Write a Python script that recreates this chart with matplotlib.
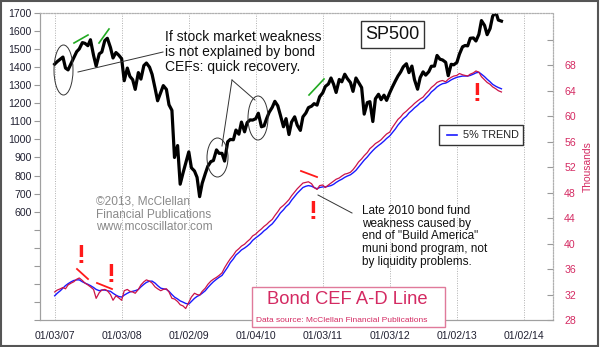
import numpy as np
import pandas as pd
import matplotlib
matplotlib.use("Agg")
import matplotlib.pyplot as plt
from matplotlib.lines import Line2D
from matplotlib.patches import Ellipse, Rectangle

plt.rcParams['font.family'] = ['Liberation Sans', 'DejaVu Sans']

W_PX, H_PX = 600, 347

# semi-monthly sample dates (1st and 15th), Jan 2007 .. Sep 2013
dates = pd.date_range('2007-01-01', periods=161, freq='SMS')

sp500 = [
    # 2007
    1417, 1431, 1445, 1456, 1395, 1385, 1421, 1452, 1486, 1501, 1536, 1532,
    1519, 1552, 1465, 1406, 1474, 1484, 1547, 1560, 1509, 1451, 1481, 1468,
    # 2008
    1447, 1325, 1395, 1349, 1331, 1277, 1370, 1334, 1409, 1423, 1400, 1360,
    1284, 1214, 1260, 1298, 1277, 1192, 1161, 900, 966, 752, 816, 868,
    # 2009
    931, 843, 825, 790, 683, 757, 811, 852, 877, 883, 942, 923,
    923, 880, 987, 1000, 998, 1052, 1029, 1096, 1042, 1093, 1108, 1107,
    # 2010
    1115, 1145, 1070, 1075, 1115, 1150, 1178, 1211, 1186, 1135, 1070, 1115,
    1027, 1096, 1125, 1079, 1050, 1125, 1146, 1176, 1184, 1198, 1190, 1236,
    # 2011
    1258, 1293, 1307, 1340, 1306, 1260, 1332, 1319, 1361, 1337, 1315, 1266,
    1340, 1316, 1287, 1140, 1204, 1209, 1099, 1225, 1250, 1220, 1245, 1216,
    # 2012
    1258, 1289, 1324, 1351, 1374, 1402, 1419, 1370, 1406, 1331, 1278, 1342,
    1374, 1356, 1375, 1405, 1406, 1465, 1444, 1440, 1427, 1353, 1416, 1413,
    # 2013
    1426, 1472, 1513, 1520, 1518, 1560, 1562, 1545, 1582, 1658, 1631, 1580,
    1614, 1682, 1706, 1661, 1655,
]

cef_ad = [
    # 2007
    32.4, 32.7, 32.9, 33.1, 32.9, 33.5, 33.8, 34.0, 34.4, 34.6, 34.2, 33.8,
    33.5, 33.2, 32.8, 31.4, 32.3, 32.7, 32.8, 32.6, 32.0, 31.1, 31.8, 31.5,
    # 2008
    31.1, 32.6, 32.8, 32.5, 32.4, 32.2, 32.8, 33.5, 34.0, 34.3, 34.1, 33.8,
    33.2, 32.9, 32.6, 32.8, 32.9, 32.4, 31.4, 31.3, 30.9, 30.4, 30.2, 29.8,
    # 2009
    30.8, 31.6, 32.2, 32.0, 31.9, 32.5, 33.0, 33.6, 34.1, 34.4, 34.7, 35.0,
    35.4, 36.2, 37.0, 37.6, 38.2, 38.8, 39.2, 39.6, 39.9, 40.3, 40.7, 41.2,
    # 2010
    41.5, 41.9, 42.3, 42.7, 43.0, 43.4, 43.8, 44.4, 45.0, 45.6, 46.0, 46.4,
    46.9, 47.5, 48.1, 48.6, 49.1, 49.5, 49.6, 49.7, 49.4, 48.8, 48.5, 49.1,
    # 2011
    49.2, 48.8, 49.2, 49.5, 49.8, 50.1, 50.3, 50.6, 50.9, 51.0, 51.2, 51.6,
    52.2, 52.8, 53.3, 53.8, 54.3, 54.9, 55.3, 55.7, 56.0, 56.3, 56.8, 57.2,
    # 2012
    57.5, 58.2, 58.9, 59.5, 59.9, 60.4, 60.8, 61.2, 61.6, 62.0, 62.4, 62.7,
    63.0, 63.5, 64.0, 64.5, 64.9, 65.3, 65.5, 65.6, 65.4, 65.8, 66.1, 66.3,
    # 2013
    66.4, 66.7, 66.5, 66.4, 66.3, 66.6, 66.8, 67.1, 66.9, 66.2, 65.7, 65.3,
    65.0, 64.6, 64.3, 64.0, 63.8,
]

trend_5pct = [
    # 2007
    31.8, 32.2, 32.6, 33.0, 33.4, 33.7, 34.0, 34.2, 34.3, 34.3, 34.0, 33.8,
    33.6, 33.4, 33.1, 32.8, 32.6, 32.7, 32.7, 32.6, 32.5, 32.2, 31.9, 31.7,
    # 2008
    31.6, 31.9, 32.2, 32.4, 32.5, 32.6, 32.8, 33.2, 33.6, 33.9, 34.1, 34.1,
    33.8, 33.4, 33.0, 32.9, 32.8, 32.5, 32.0, 31.6, 31.3, 31.0, 30.8, 30.6,
    # 2009
    30.5, 30.9, 31.4, 31.7, 31.9, 32.2, 32.6, 33.1, 33.6, 34.0, 34.4, 34.7,
    35.0, 35.6, 36.3, 37.0, 37.6, 38.2, 38.6, 39.0, 39.3, 39.6, 40.0, 40.5,
    # 2010
    40.9, 41.2, 41.6, 42.0, 42.3, 42.7, 43.1, 43.6, 44.2, 44.8, 45.3, 45.8,
    46.2, 46.8, 47.4, 47.9, 48.4, 48.8, 49.0, 49.1, 49.0, 48.8, 48.6, 48.8,
    # 2011
    48.9, 48.9, 49.0, 49.1, 49.3, 49.6, 49.9, 50.1, 50.4, 50.6, 50.8, 51.1,
    51.5, 52.0, 52.6, 53.1, 53.6, 54.1, 54.6, 55.0, 55.4, 55.7, 56.1, 56.5,
    # 2012
    56.9, 57.4, 58.0, 58.6, 59.1, 59.6, 60.0, 60.5, 60.9, 61.3, 61.7, 62.1,
    62.4, 62.8, 63.3, 63.8, 64.2, 64.6, 64.9, 65.1, 65.2, 65.4, 65.7, 65.9,
    # 2013
    66.1, 66.2, 66.3, 66.3, 66.3, 66.4, 66.6, 66.8, 66.9, 66.6, 66.2, 65.8,
    65.4, 65.0, 64.7, 64.5, 64.3,
]

xtick_dates = ['2007-01-03', '2008-01-03', '2009-01-02', '2010-01-04',
               '2011-01-03', '2012-01-03', '2013-01-02', '2014-01-02']
xtick_labels = ['01/03/07', '01/03/08', '01/02/09', '01/04/10',
                '01/03/11', '01/03/12', '01/02/13', '01/02/14']

left_ticks = list(range(0, 1800, 100))
right_ticks = list(range(28, 76, 4))

RED = '#cc1447'
BLUE = '#1a1aff'
PINK = '#d42a62'
BRIGHT_RED = '#ff1a1a'
GREEN = '#22aa22'


def fx(x):
    return x / W_PX


def fy(y):
    return 1 - y / H_PX


fig = plt.figure(figsize=(6, 3.47), dpi=100)
ax = fig.add_axes([fx(40), fy(320), (553 - 40) / W_PX, (320 - 13) / H_PX])
ax2 = ax.twinx()

ax.plot(dates, sp500, color='black', lw=2.3, zorder=3)
ax2.plot(dates, trend_5pct, color=BLUE, lw=1.0, zorder=2)
ax2.plot(dates, cef_ad, color=RED, lw=0.9, zorder=3)

ax.set_xlim(pd.Timestamp('2006-10-13'), pd.Timestamp('2014-06-09'))
ax.set_ylim(0, 1700)
ax2.set_ylim(28, 76.2)

xt = pd.to_datetime(xtick_dates)
ax.set_xticks(xt)
ax.set_xticklabels(xtick_labels, fontsize=7.6, color='#222233')
ax.tick_params(axis='x', length=0, pad=8)
for d in xt:
    ax.axvline(d, color='#b0b0b0', lw=0.7, ls=(0, (1, 1.5)), zorder=1)

ax.set_yticks(left_ticks)
ax.set_yticklabels([str(v) if v >= 600 else '' for v in left_ticks],
                   fontsize=7.6, color='#222233')
ax.tick_params(axis='y', direction='out', length=4, color='#999999', pad=2)

ax2.set_yticks(right_ticks)
ax2.set_yticklabels([str(v) if v <= 68 else '' for v in right_ticks],
                    fontsize=7.6, color=PINK)
ax2.tick_params(axis='y', direction='in', length=4, color='#999999', pad=8)
ax2.set_xlim(ax.get_xlim())

for a in (ax, ax2):
    a.spines['left'].set_color('#a0a0a0')
    a.spines['bottom'].set_color('#a0a0a0')
    a.spines['top'].set_color('#b0b0b0')
    a.spines['top'].set_linestyle((0, (1, 1.5)))
    a.spines['right'].set_color('#b0b0b0')
    a.spines['right'].set_linestyle((0, (1, 1.5)))
    for s in a.spines.values():
        s.set_linewidth(0.8)

fig.text(fx(588), fy(167), 'Thousands', rotation=90, fontsize=7.4,
         color=PINK, ha='center', va='center')

# annotation texts
fig.text(fx(165), fy(30), 'If stock market weakness\nis not explained by bond\nCEFs: quick recovery.',
         fontsize=10, color='#111111', va='top', ha='left', linespacing=1.08)
fig.text(fx(362), fy(205), 'Late 2010 bond fund\nweakness caused by\nend of "Build America"\nmuni bond program, not\nby liquidity problems.',
         fontsize=8.5, color='#111111', va='top', ha='left', linespacing=1.07)
fig.text(fx(96), fy(196), '\u00a92013, McClellan\nFinancial Publications\nwww.mcoscillator.com',
         fontsize=8.6, color='#8a8a8a', va='top', ha='left', linespacing=1.06)

fig.text(fx(392.5), fy(34.5), 'SP500', fontsize=13, color='#111111',
         ha='center', va='center',
         bbox=dict(boxstyle='square,pad=0.25', fc='white', ec='#333333', lw=1))

# legend box
fig.add_artist(Rectangle((fx(439), fy(145)), 84 / W_PX, 20 / H_PX,
                         transform=fig.transFigure, fc='white', ec='#333333', lw=1, zorder=4))
fig.add_artist(Line2D([fx(447), fx(457)], [fy(135), fy(135)], transform=fig.transFigure,
                      color=BLUE, lw=1.2, zorder=5))
fig.text(fx(463), fy(135), '5% TREND', fontsize=7.8, color='#222222',
         ha='left', va='center', zorder=5)

# Bond CEF A-D Line box
fig.add_artist(Rectangle((fx(252), fy(327)), 193 / W_PX, 40 / H_PX,
                         transform=fig.transFigure, fc='white', ec='#e07a9a', lw=1, zorder=4))
fig.text(fx(347.5), fy(300), 'Bond CEF A-D Line', fontsize=13.2, color=PINK,
         ha='center', va='center', zorder=5)
fig.text(fx(256), fy(320), 'Data source: McClellan Financial Publications', fontsize=6,
         color=PINK, ha='left', va='center', zorder=5)

# pointer lines
pointer_lines = [((78, 72), (163, 52)), ((232, 80), (222, 146)),
                 ((232, 80), (255, 100)), ((318, 195), (352, 213))]
for (x1, y1), (x2, y2) in pointer_lines:
    fig.add_artist(Line2D([fx(x1), fx(x2)], [fy(y1), fy(y2)], transform=fig.transFigure,
                          color='#333333', lw=0.7, zorder=4))

# ellipses
for cx, cy, w, h in [(63.5, 70, 19, 50), (217.5, 157.5, 21, 39), (258, 118, 20, 44)]:
    fig.add_artist(Ellipse((fx(cx), fy(cy)), w / W_PX, h / H_PX, transform=fig.transFigure,
                           fill=False, ec='#333333', lw=0.7, zorder=4))

# green and red trend marks
for (x1, y1), (x2, y2) in [((74, 43), (88, 35)), ((99, 43), (109, 29)), ((309, 95), (324, 79))]:
    fig.add_artist(Line2D([fx(x1), fx(x2)], [fy(y1), fy(y2)], transform=fig.transFigure,
                          color=GREEN, lw=1.2, zorder=4))
for (x1, y1), (x2, y2) in [((77, 269), (88, 279)), ((97, 283), (112, 289)), ((301, 171), (317, 177))]:
    fig.add_artist(Line2D([fx(x1), fx(x2)], [fy(y1), fy(y2)], transform=fig.transFigure,
                          color=BRIGHT_RED, lw=1.3, zorder=4))

# exclamation marks
for x, y in [(80.5, 256), (111, 275), (313, 212), (477, 94)]:
    fig.text(fx(x), fy(y), '!', fontsize=19, fontweight='bold', color=BRIGHT_RED,
             ha='center', va='center', zorder=5)

# outer frame
fig.add_artist(Rectangle((0.002, 0.003), 0.995, 0.994, transform=fig.transFigure,
                         fill=False, ec='#555555', lw=1.5, zorder=10))

fig.savefig('out.png', dpi=100)
